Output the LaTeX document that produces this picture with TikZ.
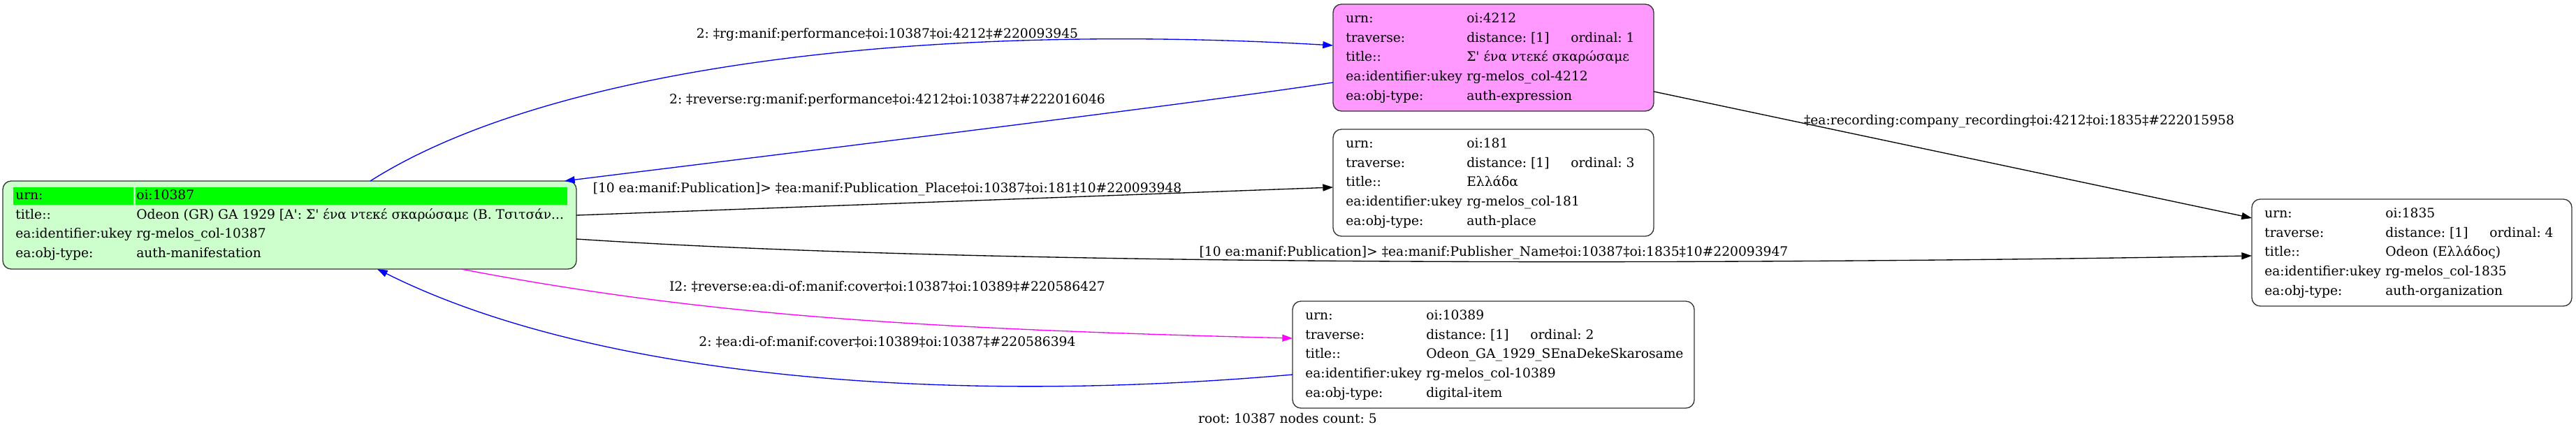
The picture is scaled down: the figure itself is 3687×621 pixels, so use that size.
\documentclass[tikz,border=0pt]{standalone}
\usepackage{fontspec}
\newfontfamily\dvs{DejaVu Serif}
\usetikzlibrary{arrows.meta,calc}
\definecolor{boxgreen}{HTML}{CCFFCC}
\definecolor{boxpink}{HTML}{FF99FF}
\definecolor{hlgreen}{HTML}{00FF00}
\definecolor{edgeblue}{HTML}{0000FF}
\definecolor{edgemagenta}{HTML}{FF00FF}
\newcommand\boxrow[4]{%
  \node[cell] (#1l#2) at ($(#1.north west)+(18,{26.5+27.7*(#2-1)})$) {#3};
  \node[cell] (#1v#2) at ($(#1.north west)+(191,{26.5+27.7*(#2-1)})$) {#4};}
\newcommand\ordcell[2]{%
  \node[cell] (#1o) at ($(#1.north west)+(340,54.2)$) {ordinal: #2};}
\begin{document}
\frenchspacing
\begin{tikzpicture}[x=0.75pt,y=-0.75pt,
  font=\dvs\fontsize{14}{16}\selectfont\frenchspacing,
  box/.style={draw=black!80,line width=1pt,rounded corners=9pt,inner sep=0pt,outer sep=0pt},
  cell/.style={anchor=base west,inner sep=0pt},
  elabel/.style={anchor=base,inner sep=0pt},
  edge/.style={line width=1pt,-{Triangle[length=11pt,width=7.5pt]}}]
\useasboundingbox (0,0) rectangle (3687,621);

% boxes
\node[box,fill=boxgreen,minimum width=615.75pt,minimum height=94.5pt] (n10387) at (414.5,322) {};
\node[box,fill=boxpink,minimum width=344.25pt,minimum height=114.75pt] (n4212) at (2137.5,82.5) {};
\node[box,fill=white,minimum width=344.25pt,minimum height=114.75pt] (n181) at (2137.5,261.5) {};
\node[box,fill=white,minimum width=431.25pt,minimum height=114.75pt] (n10389) at (2137.5,507.5) {};
\node[box,fill=white,minimum width=343.5pt,minimum height=114.75pt] (n1835) at (3452,361.5) {};

% highlight of the root row
\fill[hlgreen] (19,268) rectangle (191,293);
\fill[hlgreen] (194,268) rectangle (812,293);

% root node rows
\boxrow{n10387}{1}{urn:}{oi:10387}
\boxrow{n10387}{2}{title::}{Odeon (GR) GA 1929 [Α': Σ' ένα ντεκέ σκαρώσαμε (Β. Τσιτσάν...}
\boxrow{n10387}{3}{ea:identifier:ukey}{rg-melos\_col-10387}
\boxrow{n10387}{4}{ea:obj-type:}{auth-manifestation}

% 4212
\boxrow{n4212}{1}{urn:}{oi:4212}
\boxrow{n4212}{2}{traverse:}{distance: [1]}
\ordcell{n4212}{1}
\boxrow{n4212}{3}{title::}{Σ' ένα ντεκέ σκαρώσαμε}
\boxrow{n4212}{4}{ea:identifier:ukey}{rg-melos\_col-4212}
\boxrow{n4212}{5}{ea:obj-type:}{auth-expression}

% 181
\boxrow{n181}{1}{urn:}{oi:181}
\boxrow{n181}{2}{traverse:}{distance: [1]}
\ordcell{n181}{3}
\boxrow{n181}{3}{title::}{Ελλάδα}
\boxrow{n181}{4}{ea:identifier:ukey}{rg-melos\_col-181}
\boxrow{n181}{5}{ea:obj-type:}{auth-place}

% 10389
\boxrow{n10389}{1}{urn:}{oi:10389}
\boxrow{n10389}{2}{traverse:}{distance: [1]}
\ordcell{n10389}{2}
\boxrow{n10389}{3}{title::}{Odeon\_GA\_1929\_SEnaDekeSkarosame}
\boxrow{n10389}{4}{ea:identifier:ukey}{rg-melos\_col-10389}
\boxrow{n10389}{5}{ea:obj-type:}{digital-item}

% 1835
\boxrow{n1835}{1}{urn:}{oi:1835}
\boxrow{n1835}{2}{traverse:}{distance: [1]}
\ordcell{n1835}{4}
\boxrow{n1835}{3}{title::}{Odeon (Ελλάδος)}
\boxrow{n1835}{4}{ea:identifier:ukey}{rg-melos\_col-1835}
\boxrow{n1835}{5}{ea:obj-type:}{auth-organization}

% edges
\draw[edge,edgeblue] ($(n10387.north west)+(526,0)$) .. controls (780,100) and (1300,30) .. ($(n4212.north west)+(0,59)$);
\draw[edge,edgeblue] ($(n4212.north west)+(0,112)$) .. controls (1700,150) and (1000,235) .. ($(n10387.north west)+(804,0)$);
\draw[edge] ($(n10387.north east)+(0,49)$) -- ($(n181.north west)+(0,83)$);
\draw[edge] ($(n10387.north east)+(0,83)$) .. controls (1400,380) and (2400,380) .. ($(n1835.north west)+(0,81)$);
\draw[edge] ($(n4212.north east)+(0,125)$) -- ($(n1835.north west)+(0,27)$);
\draw[edge,edgemagenta] ($(n10387.south west)+(656,0)$) .. controls (1000,450) and (1300,470) .. ($(n10389.north west)+(0,53)$);
\draw[edge,edgeblue] ($(n10389.north west)+(0,105)$) .. controls (1350,580) and (850,540) .. ($(n10387.south west)+(536,0)$);

% edge labels
\node[elabel] (lab1) at (1270,54.5) {2: ‡rg:manif:performance‡oi:10387‡oi:4212‡\#220093945};
\node[elabel] (lab2) at (1270,148.5) {2: ‡reverse:rg:manif:performance‡oi:4212‡oi:10387‡\#222016046};
\node[elabel] (lab3) at (1270,275) {[10 ea:manif:Publication]> ‡ea:manif:Publication\_Place‡oi:10387‡oi:181‡10\#220093948};
\node[elabel] (lab4) at (2138,366) {[10 ea:manif:Publication]> ‡ea:manif:Publisher\_Name‡oi:10387‡oi:1835‡10\#220093947};
\node[elabel] (lab5) at (2890,178) {‡ea:recording:company\_recording‡oi:4212‡oi:1835‡\#222015958};
\node[elabel] (lab6) at (1270,416) {I2: ‡reverse:ea:di-of:manif:cover‡oi:10387‡oi:10389‡\#220586427};
\node[elabel] (lab7) at (1270,495) {2: ‡ea:di-of:manif:cover‡oi:10389‡oi:10387‡\#220586394};

\node[elabel] (footer) at (1843,605) {root: 10387 nodes count: 5};
\end{tikzpicture}
\end{document}
